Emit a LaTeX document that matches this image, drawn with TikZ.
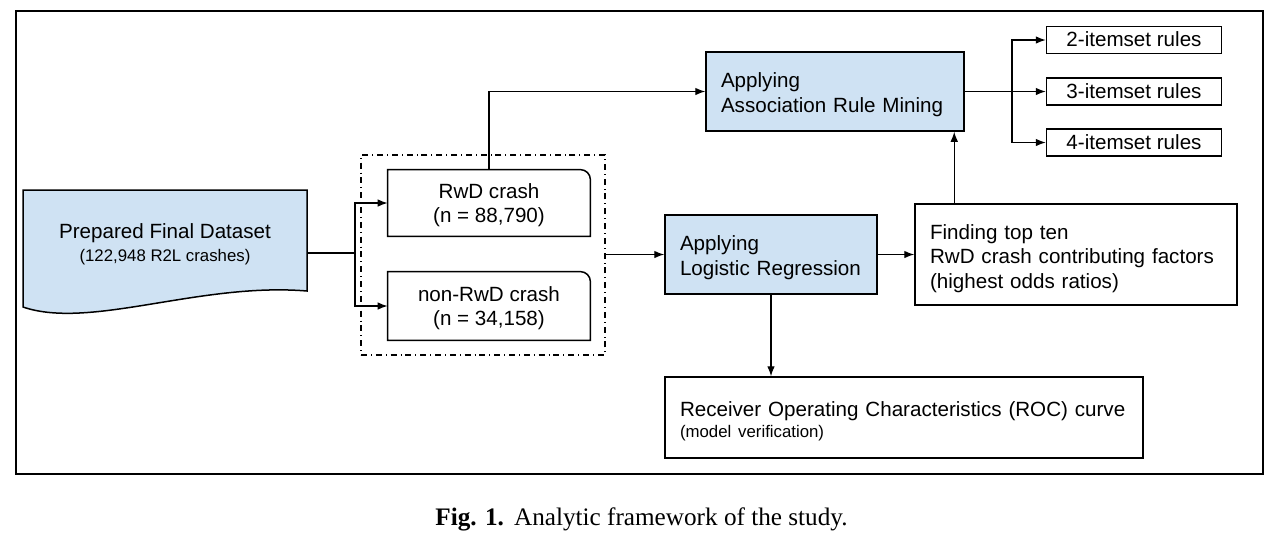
\documentclass[tikz,border=0pt]{standalone}
\usepackage{fontspec}
\setmainfont{Liberation Sans}
\newfontfamily\capfont{Liberation Serif}
\usetikzlibrary{shapes}
\usetikzlibrary{arrows.meta}
\definecolor{boxblue}{RGB}{207,226,243}
\newcommand{\smalltxt}{\fontsize{8.4}{10}\selectfont}
\newcommand{\topgap}[1]{\rule{0pt}{#1}}

\begin{document}
\begin{tikzpicture}[x=0.5pt,y=-0.5pt]
		\tikzstyle{every node}=[font=\fontsize{10.3}{12.2}\selectfont]
		\tikzstyle{plain}=[rectangle,draw,line width=0.75pt,inner sep=0pt]
		\tikzstyle{stepbox}=[plain,fill=boxblue,align=left,inner xsep=7.5pt]
		\tikzstyle{rulebox}=[plain,minimum width=87.5pt,minimum height=13.5pt,text depth=0.6pt]
		\tikzstyle{wire}=[line width=0.6pt]
		\tikzstyle{flow}=[wire,-{Latex[length=5pt,width=3.8pt]}]
		
		\useasboundingbox (0,0) rectangle (1287,554);
		\draw[line width=0.6pt] (16,11) rectangle (1263,474);
		
		% prepared dataset (document shape)
		\draw[line width=0.75pt,fill=boxblue] (23,190) -- (307,190) -- (307,291)
			.. controls (200,282) and (90,330) .. (23,307) -- cycle;
		\node[inner sep=0pt,minimum width=142pt,align=center] (data) at (165,244)
			{Prepared Final Dataset\\[-0.8pt]{\smalltxt(122,948 R2L crashes)}};
		
		% split of the crashes
		\node[draw,dash dot,line width=0.6pt,inner sep=0pt,minimum width=122pt,minimum height=100pt] (grp) at (483,255) {};
		\node[inner sep=0pt,minimum width=101pt,minimum height=33pt,align=center,text depth=-0.8pt] (rwd) at (489,203) {RwD crash\\(n = 88,790)};
		\node[inner sep=0pt,minimum width=101pt,minimum height=34pt,align=center,text depth=-0.8pt] (nonrwd) at (489,306) {non-RwD crash\\(n = 34,158)};
		\draw[line width=0.75pt] (rwd.south west) -- (rwd.north west) -- ([xshift=-5pt]rwd.north east)
			arc[start angle=90,end angle=0,radius=5pt] -- (rwd.south east) -- cycle;
		\draw[line width=0.75pt] (nonrwd.south west) -- (nonrwd.north west) -- ([xshift=-5pt]nonrwd.north east)
			arc[start angle=90,end angle=0,radius=5pt] -- (nonrwd.south east) -- cycle;
		
		% methods
		\node[stepbox,text width=114pt,minimum height=39.5pt] (arm) at (835,91.5) {\topgap{10.5pt}Applying\\Association Rule Mining};
		\node[stepbox,text width=91pt,minimum height=39.5pt] (lr) at (771,254.5) {\topgap{10.5pt}Applying\\Logistic Regression};
		\node[plain,align=left,inner xsep=7.5pt,text width=146pt,minimum height=50.5pt] (top) at (1076,254.5)
			{\topgap{11.5pt}Finding top ten\\RwD crash contributing factors\\(highest odds ratios)};
		\node[plain,align=left,inner xsep=7.5pt,text width=224pt,minimum height=40.5pt] (roc) at (904,417.5)
			{\topgap{11pt}Receiver Operating Characteristics (ROC) curve\\[-1.5pt]{\smalltxt(model verification)}};
		
		% rules
		\node[rulebox] (r2) at (1134,40) {2-itemset rules};
		\node[rulebox] (r3) at (1134,91.5) {3-itemset rules};
		\node[rulebox] (r4) at (1134,142.5) {4-itemset rules};
		
		% connectors
		\coordinate (split) at (355,253);
		\coordinate (fan) at (1012,91.5);
		\draw[wire] (split -| data.east) -- (split);
		\draw[flow] (split) |- (rwd.west);
		\draw[flow] (split) |- (nonrwd.west);
		\draw[flow] (rwd.north) |- (arm.west);
		\draw[flow] (grp.east |- lr.west) -- (lr.west);
		\draw[flow] (lr.east) -- (top.west);
		\draw[flow] ([xshift=20pt]top.north west) -- ([xshift=20pt]top.north west |- arm.south);
		\draw[flow] (lr.south) -- (lr.south |- roc.north);
		\draw[wire] (arm.east) -- (fan);
		\foreach \r in {r2,r3,r4}
			\draw[flow] (fan) |- (\r.west);
		
		% caption
		\node[anchor=west,inner sep=0pt,font=\capfont\fontsize{12.6}{14}\selectfont] (cap) at (435,519)
			{\textbf{Fig. 1.}\hspace{0.4em}Analytic framework of the study.};
\end{tikzpicture}
\end{document}
